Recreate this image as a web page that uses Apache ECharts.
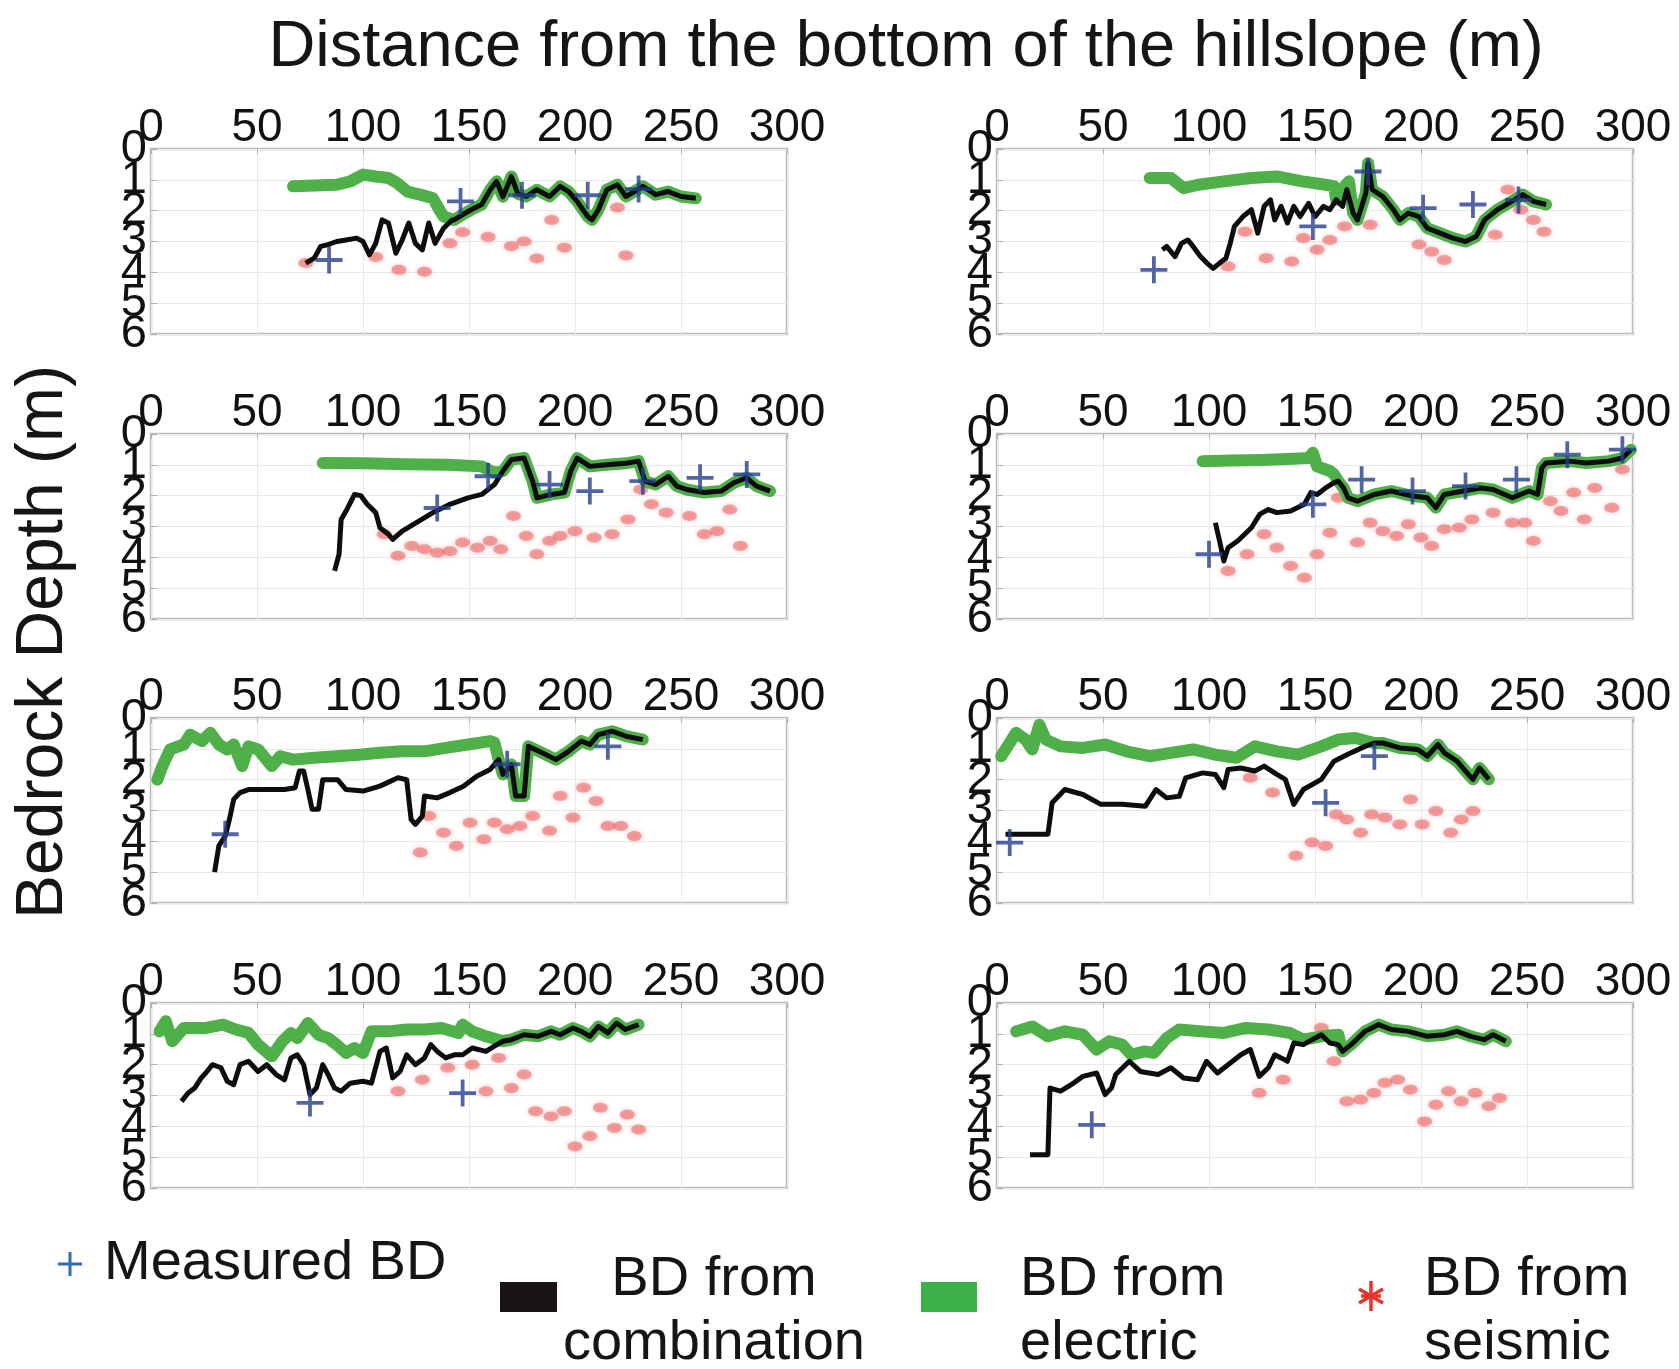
<!DOCTYPE html>
<html>
<head>
<meta charset="utf-8">
<script src="https://cdn.jsdelivr.net/npm/echarts@6/dist/echarts.min.js"></script>
<style>html,body{margin:0;padding:0;background:#fff}#c{width:1679px;height:1369px}</style>
</head>
<body>
<div id="c"></div>
<script>
// ---------- tick labels ----------
const xTicks = [0, 50, 100, 150, 200, 250, 300];
const yTicks = [0, 1, 2, 3, 4, 5, 6];

// ---------- panel 1 (top-left) ----------
const p1_measured = [[84,3.6],[146,1.7],[175,1.5],[206,1.5],[230,1.3]];
const p1_combOnly = [[73,3.7],[77,3.54],[80,3.16],[83.5,3.1],[87.6,3.0],[92,2.95],[97,2.89],[100,3.0],[103,3.43],[106,3.06],[109,2.3],[112,2.4],[115.5,3.38],[118.5,2.95],[121.6,2.4],[124.7,3.06],[128,3.27],[131,2.4],[134,3.06],[138,2.57],[142,2.3]];
const p1_elecOnly = [[67,1.21],[87.6,1.16],[94,1.05],[100,0.83],[106,0.89],[112,0.94],[116,1.1],[121,1.38],[127,1.48],[133,1.6],[136,1.97],[138,2.19]];
const p1_joint = [[143,2.3],[147,2.13],[151,1.97],[156,1.8],[160,1.32],[163,1.05],[166,1.55],[170,0.89],[173,1.45],[177,1.54],[182,1.32],[188,1.54],[193,1.21],[197,1.38],[201,1.7],[206,2.19],[208,2.3],[211,1.97],[215,1.32],[220,1.16],[224,1.54],[228,1.38],[232,1.21],[238,1.48],[244,1.38],[250,1.54],[257,1.6]];
const p1_seismic = [[73,3.7],[106,3.5],[117,3.92],[129,3.98],[141,3.06],[147,2.7],[159,2.85],[170,3.15],[176,3.0],[182,3.55],[189,2.3],[195,3.2],[220,1.9],[224,3.45]];

// ---------- panel 2 (top-right) ----------
const p2_measured = [[74,3.92],[149,2.51],[175,0.73],[201,1.92],[224.5,1.8],[246,1.65]];
const p2_combOnly = [[78,3.27],[80,3.16],[84,3.49],[87,3.06],[90,2.95],[92.5,3.16],[96,3.49],[99,3.7],[102,3.87],[105,3.7],[108,3.54],[110,3.06],[112,2.51],[116,2.19],[120,1.97],[123,2.73],[126,1.86],[129,1.65],[131,2.3],[134,1.86],[137,2.4],[140,1.86],[143,2.19],[147,1.76],[150,2.19],[154,1.86],[157,1.97],[160,1.65],[163,1.86],[165,1.32],[168,2.08]];
const p2_elecOnly = [[72,0.94],[82,0.94],[88,1.27],[95,1.16],[107,1.05],[120,0.94],[132,0.89],[144,1.05],[155,1.16],[159,1.21],[160,1.65],[164,1.21],[166,1.05],[168,2.08]];
const p2_joint = [[170,2.3],[174,1.43],[175,0.46],[177,1.32],[182,1.54],[187,1.97],[190,2.3],[194,2.08],[199,2.19],[203,2.57],[209,2.73],[215,2.89],[221,3.0],[226,2.84],[230,2.3],[236,1.97],[244,1.65],[248,1.48],[253,1.7],[259,1.8]];
const p2_seismic = [[109,3.81],[117,2.68],[127,3.54],[139,3.65],[144.5,2.89],[151,3.27],[157,2.95],[164,2.51],[176,2.46],[199,3.1],[205,3.33],[211,3.6],[235,2.78],[241,1.32],[247,1.97],[253,2.3],[258,2.68]];

// ---------- panel 3 (row 2 left) ----------
const p3_measured = [[135,2.4],[159,1.37],[188,1.64],[207,1.85],[232,1.53],[259,1.42],[281,1.31]];
const p3_combOnly = [[86.6,4.44],[88.7,3.9],[89.7,2.77],[92,2.5],[96,1.96],[99,2.0],[102,2.28],[106,2.55],[108,3.04],[112,3.25],[114,3.42],[118.5,3.15],[125,2.88],[133,2.55],[141,2.28],[149.5,2.07],[156,1.96],[162,1.64]];
const p3_elecOnly = [[81,0.94],[100,0.95],[120,0.98],[140,1.0],[156,1.05],[162,1.26]];
const p3_joint = [[166,1.2],[170,0.83],[176,0.78],[180,1.53],[182,2.07],[189,1.96],[195,1.9],[198,1.2],[201,0.78],[207,1.05],[215,1.0],[224,0.95],[230,0.88],[233,1.53],[238,1.64],[244,1.37],[248,1.69],[252.6,1.8],[261,1.9],[269,1.85],[275,1.58],[281,1.42],[285.6,1.69],[292,1.85]];
const p3_seismic = [[110,3.25],[116.5,3.95],[123,3.63],[129,3.74],[135,3.85],[141,3.8],[147,3.52],[154,3.69],[160,3.47],[165,3.74],[171,2.66],[177,3.31],[182,3.9],[188,3.47],[193,3.31],[200,3.15],[209,3.36],[217.5,3.25],[225,2.77],[231,1.8],[236,2.28],[243,2.55],[254,2.66],[261,3.25],[267,3.15],[273,2.45],[278,3.63]];

// ---------- panel 4 (row 2 right) ----------
const p4_measured = [[100,3.9],[149,2.28],[172,1.48],[196,1.85],[221,1.69],[245,1.48],[269,0.67],[295,0.51]];
const p4_combOnly = [[103,2.88],[105,3.47],[107,4.12],[109,3.69],[113.5,3.47],[120,3.04],[124,2.6],[128,2.45],[132,2.55],[138.5,2.5],[145,2.28],[148,1.9],[151,1.96],[155,1.75],[159,1.58]];
const p4_elecOnly = [[97,0.88],[110,0.86],[125,0.84],[140,0.8],[147,0.78],[149,0.61],[151,1.05],[157,1.2],[159,1.31]];
const p4_joint = [[161,1.53],[163.5,1.75],[165.6,2.07],[170,2.18],[178,1.96],[186,1.85],[195,2.0],[203,2.07],[207,2.39],[211,1.96],[220,1.85],[228,1.75],[234,1.8],[243,2.07],[251,1.85],[255,1.96],[257,1.1],[259,0.94],[270,0.88],[278,0.94],[288.5,0.88],[295,0.78],[299,0.51]];
const p4_seismic = [[109,4.44],[118,3.9],[126,3.25],[132,3.69],[138.5,4.28],[145,4.66],[151,3.9],[157,3.2],[161,2.07],[170,3.52],[176,2.88],[182,3.15],[188.5,3.31],[194,2.93],[200,3.36],[205,3.63],[211,3.09],[218,3.04],[224,2.77],[234,2.55],[243,2.88],[249,2.88],[253,3.47],[261,2.18],[266,2.5],[272,1.9],[277,2.77],[282,1.75],[290,2.39],[295,1.15]];

// ---------- panel 5 (row 3 left) ----------
const p5_measured = [[35,3.77],[168,1.5],[215.5,0.92]];
const p5_combOnly = [[30,5.0],[32,4.15],[35,3.83],[37,3.29],[39,2.64],[42,2.42],[46,2.32],[54.6,2.32],[63,2.32],[68,2.26],[70,1.72],[72,1.72],[74,2.32],[76,2.96],[79,2.96],[81,2.0],[88,2.0],[92,2.32],[100,2.37],[108,2.21],[116.5,1.94],[120.6,2.0],[122.7,3.29],[124.7,3.45],[128,3.18],[129,2.53],[135,2.59],[141,2.42],[147.4,2.21],[153.6,1.89],[160,1.67]];
const p5_elecOnly = [[3,2.0],[5,1.62],[9,1.02],[15.5,0.86],[18.5,0.54],[24,0.75],[28,0.48],[32,0.86],[36,1.02],[39,0.86],[43,1.56],[46,0.92],[50.5,1.02],[57,1.56],[61,1.24],[67,1.35],[77,1.29],[88,1.24],[98,1.19],[108,1.13],[118.5,1.08],[129,1.08],[139,0.97],[149.5,0.86],[160,0.75],[162,0.8]];
const p5_joint = [[164,1.35],[166,1.83],[170,1.51],[172,2.53],[176,2.53],[178,0.92],[184.5,1.13],[191,1.35],[197,1.08],[203,0.75],[207,0.86],[211,0.54],[217.5,0.43],[224,0.59],[232,0.7]];
const p5_seismic = [[127,4.36],[131,3.18],[138,3.72],[144,4.15],[150.5,3.4],[157,3.93],[162,3.4],[168,3.61],[174,3.5],[180,3.18],[188,3.66],[193,2.53],[199,3.23],[204,2.26],[210,2.69],[215.5,3.5],[221.6,3.5],[228,3.83]];

// ---------- panel 6 (row 3 right) ----------
const p6_measured = [[6,4.04],[155,2.75],[178,1.24]];
const p6_combOnly = [[4,3.77],[24,3.77],[26,2.75],[32,2.32],[40.5,2.48],[49,2.8],[59,2.8],[70,2.86],[75,2.32],[80,2.59],[86,2.54],[89,1.94],[97,1.78],[103,1.83],[107,2.26],[109,1.67],[115,1.62],[121.6,1.72],[126,1.56],[132,1.83],[136,1.99],[140,2.8],[144.5,2.32],[153,1.99],[159,1.4],[165,1.19],[173.6,0.92]];
const p6_elecOnly = [[2,1.24],[5,0.92],[9,0.48],[13.5,0.7],[16.6,1.02],[20,0.22],[23,0.7],[30,0.92],[40.5,0.97],[51,0.86],[61,1.08],[72,1.24],[82,1.13],[92.5,1.02],[103,1.19],[113,1.29],[121.6,0.92],[132,1.08],[142,1.19],[153,0.92],[161,0.7],[169,0.65]];
const p6_joint = [[178,0.81],[182,0.81],[190,0.97],[198.5,1.02],[203,1.24],[208,0.86],[211,1.13],[217,1.4],[221,1.72],[224.5,1.99],[227.6,1.62],[232,1.99]];
const p6_seismic = [[119.5,1.94],[130,2.42],[141,4.47],[148.6,4.04],[155,4.15],[160,3.13],[165,3.29],[171.5,3.72],[176.7,3.13],[183,3.23],[190,3.45],[195,2.64],[200.6,3.45],[207,3.02],[214,3.72],[219,3.29],[224.5,3.02]];

// ---------- panel 7 (row 4 left) ----------
const p7_measured = [[75,3.24],[147,2.92]];
const p7_combOnly = [[14.4,3.19],[17.5,2.92],[20.6,2.76],[23.7,2.43],[25.8,2.27],[29,2.0],[33,2.1],[36,2.54],[39,2.65],[42,2.0],[46,1.89],[50.5,2.22],[54.6,2.0],[59,2.32],[63,2.49],[66,1.78],[69,1.68],[72,2.0],[75,2.97],[78,2.76],[81,2.0],[83.5,2.32],[86.6,2.76],[89.7,2.86],[94,2.6],[100,2.54],[104,2.6],[108,1.57],[111,1.46],[114,2.43],[117.5,2.22],[120.6,1.68],[124.7,2.0],[129,1.78],[132,1.35],[135,1.57],[139,1.78],[143,1.68],[147,1.68],[151.5,1.46],[158,1.57],[162,1.4]];
const p7_elecOnly = [[4,0.92],[7,0.59],[10,1.24],[15.5,0.81],[26,0.81],[34,0.7],[40,0.86],[46,0.97],[50.5,1.35],[57,1.73],[62,1.24],[66,0.97],[69,1.14],[74,0.65],[79,1.03],[83.5,1.14],[87.6,1.35],[92,1.62],[96,1.46],[100,1.62],[104,0.92],[112,0.92],[120.6,0.86],[129,0.86],[137,0.81],[145,0.97],[147,0.7],[151.5,0.92],[158,1.08]];
const p7_joint = [[166,1.24],[170,1.19],[176,1.03],[182.5,1.08],[188.7,0.92],[193,1.03],[199,0.81],[203,0.92],[207,1.08],[211,0.76],[215.5,0.97],[219.6,0.65],[223.7,0.86],[230,0.7]];
const p7_seismic = [[116.5,2.86],[128,2.49],[140,2.1],[151.5,2.0],[158,2.86],[164,1.78],[170,2.76],[176,2.32],[181.4,3.51],[188.7,3.68],[195,3.51],[200,4.65],[207,4.32],[212,3.4],[218.6,4.05],[224.7,3.62],[230,4.1]];

// ---------- panel 8 (row 4 right) ----------
const p8_measured = [[44.7,3.95]];
const p8_combOnly = [[15.6,4.92],[24,4.92],[25,2.76],[30,2.86],[35,2.65],[40.5,2.38],[47,2.27],[51,2.97],[54,2.76],[56,2.32],[62.4,1.89],[67.6,2.22],[76,2.32],[82,2.1],[88,2.43],[94.6,2.49],[98.8,1.89],[104,2.27],[109,2.0],[115,1.68],[119.5,1.51],[123.7,2.38],[128,2.1],[131,1.68],[134,1.78],[137,1.89],[140,1.3],[144.5,1.35],[148.6,1.19],[153,1.03],[157,1.3],[161,1.35]];
const p8_elecOnly = [[9,0.92],[16.6,0.76],[24,1.08],[32,0.92],[40.5,1.03],[47,1.51],[53,1.24],[59,1.35],[63.4,1.68],[69.6,1.57],[74,1.62],[80,1.14],[86,0.86],[96.7,0.92],[107,0.97],[117.5,0.81],[128,0.86],[138,0.97],[144.5,1.19],[153,1.08],[161,1.03]];
const p8_joint = [[163,1.57],[167,1.35],[173.6,0.92],[180,0.7],[186,0.86],[194,0.92],[203,1.08],[211,1.03],[217,0.92],[223.5,1.08],[229.7,1.19],[234,1.03],[240,1.24]];
const p8_seismic = [[123.7,2.92],[135,2.49],[153,0.81],[159,1.89],[165,3.19],[171.5,3.14],[177.8,2.92],[183,2.59],[189,2.49],[195,2.81],[201.7,3.84],[207,3.3],[213,2.86],[219,3.19],[225.6,2.92],[232,3.35],[237,3.08]];

const titleText = 'Distance from the bottom of the hillslope (m)';
const yTitleText = 'Bedrock Depth (m)';
const legendNames = ['Measured BD', 'BD from\ncombination', 'BD from\nelectric', 'BD from\nseismic'];

// ---------- build ----------
const panels = [
  {m:p1_measured, c:p1_combOnly.concat(p1_joint), e:p1_elecOnly.concat(p1_joint), s:p1_seismic},
  {m:p2_measured, c:p2_combOnly.concat(p2_joint), e:p2_elecOnly.concat(p2_joint), s:p2_seismic},
  {m:p3_measured, c:p3_combOnly.concat(p3_joint), e:p3_elecOnly.concat(p3_joint), s:p3_seismic},
  {m:p4_measured, c:p4_combOnly.concat(p4_joint), e:p4_elecOnly.concat(p4_joint), s:p4_seismic},
  {m:p5_measured, c:p5_combOnly.concat(p5_joint), e:p5_elecOnly.concat(p5_joint), s:p5_seismic},
  {m:p6_measured, c:p6_combOnly.concat(p6_joint), e:p6_elecOnly.concat(p6_joint), s:p6_seismic},
  {m:p7_measured, c:p7_combOnly.concat(p7_joint), e:p7_elecOnly.concat(p7_joint), s:p7_seismic},
  {m:p8_measured, c:p8_combOnly.concat(p8_joint), e:p8_elecOnly.concat(p8_joint), s:p8_seismic}
];

const FONT = '"Liberation Sans", Arial, sans-serif';
const colLeft = [151, 997];
const rowTop = [149, 434, 718, 1003];
const PW = 636, PH = 185;
const GREEN = '#4fb04a', BLACK = '#0d0d0d', BLUE = '#253f8f', PINK = 'rgba(236,100,100,0.7)';
const PLUS = 'path://M4.3,0H5.7V4.3H10V5.7H5.7V10H4.3V5.7H0V4.3H4.3Z';

// labels split over two overlaid axes so that the overlapping digits are all drawn
const evenLabel = (v) => (yTicks.indexOf(v) % 2 === 0 ? String(v) : '');
const oddLabel = (v) => (yTicks.indexOf(v) % 2 === 1 ? String(v) : '');

const grids = [], xAxes = [], yAxes = [], series = [];
panels.forEach((p, i) => {
  const col = i % 2, row = Math.floor(i / 2);
  grids.push({left: colLeft[col], top: rowTop[row], width: PW, height: PH, show: true,
    borderColor: '#bcbcbc', borderWidth: 2.5, backgroundColor: 'rgba(0,0,0,0)', containLabel: false});
  xAxes.push({gridIndex: i, type: 'value', position: 'top', min: xTicks[0], max: xTicks[xTicks.length-1],
    interval: xTicks[1]-xTicks[0],
    axisLine: {show: false}, axisTick: {show: true, inside: true, length: 5, lineStyle: {color: '#b0b0b0'}},
    axisLabel: {fontSize: 46, color: '#111', fontFamily: FONT, margin: -2, showMinLabel: true, showMaxLabel: true},
    splitLine: {show: true, lineStyle: {color: '#e9e9e9', width: 1}}});
  const yBase = {gridIndex: i, type: 'value', inverse: true, position: 'left', offset: 0,
    min: yTicks[0], max: yTicks[yTicks.length-1], interval: yTicks[1]-yTicks[0], axisLine: {show: false}};
  yAxes.push(Object.assign({}, yBase, {
    axisTick: {show: true, inside: true, length: 6, lineStyle: {color: '#b0b0b0'}},
    axisLabel: {fontSize: 47, color: '#111', fontFamily: FONT, margin: 4, showMinLabel: true, showMaxLabel: true, formatter: evenLabel},
    splitLine: {show: true, lineStyle: {color: '#e9e9e9', width: 1}}}));
  yAxes.push(Object.assign({}, yBase, {
    axisTick: {show: false}, splitLine: {show: false},
    axisLabel: {fontSize: 47, color: '#111', fontFamily: FONT, margin: 4, showMinLabel: true, showMaxLabel: true, formatter: oddLabel}}));
  const yi = 2 * i;
  series.push({type: 'scatter', xAxisIndex: i, yAxisIndex: yi, data: p.s, symbol: 'circle', symbolSize: [15, 10],
    itemStyle: {color: PINK, shadowBlur: 5, shadowColor: 'rgba(240,120,120,0.7)'}, z: 1, silent: true});
  series.push({type: 'line', xAxisIndex: i, yAxisIndex: yi, data: p.e, showSymbol: false,
    lineStyle: {color: GREEN, width: 12, join: 'round', cap: 'round'}, z: 2, silent: true});
  series.push({type: 'line', xAxisIndex: i, yAxisIndex: yi, data: p.c, showSymbol: false,
    lineStyle: {color: BLACK, width: 5, join: 'round'}, z: 3, silent: true});
  series.push({type: 'scatter', xAxisIndex: i, yAxisIndex: yi, data: p.m, symbol: PLUS, symbolSize: 27,
    itemStyle: {color: BLUE}, z: 4, silent: true});
});

// ---------- text + legend graphics ----------
const txt = (x, y, s, size, align) => ({type: 'text', x: x, y: y,
  style: {text: s, fontSize: size, fontFamily: FONT, fill: '#151515', textAlign: align || 'left', textVerticalAlign: 'middle'}});
const lines2 = (n) => n.split('\n');
const RED = '#e5342b';

const graphics = [
  txt(906, 48, titleText, 65, 'center'),
  {type: 'text', x: 44, y: 642, rotation: Math.PI / 2,
    style: {text: yTitleText, fontSize: 66, fontFamily: FONT, fill: '#151515', textAlign: 'center', textVerticalAlign: 'middle'}},
  // measured
  {type: 'rect', shape: {x: 68.5, y: 1252, width: 3, height: 24}, style: {fill: '#2f6cb8'}},
  {type: 'rect', shape: {x: 58, y: 1262.5, width: 24, height: 3}, style: {fill: '#2f6cb8'}},
  txt(104, 1264, legendNames[0], 56),
  // combination
  {type: 'rect', shape: {x: 500, y: 1282, width: 57, height: 30}, style: {fill: '#1a1415'}},
  txt(714, 1280, lines2(legendNames[1])[0], 56, 'center'),
  txt(714, 1344, lines2(legendNames[1])[1], 56, 'center'),
  // electric
  {type: 'rect', shape: {x: 921, y: 1282, width: 56, height: 30}, style: {fill: '#3cb14a'}},
  txt(1020, 1280, lines2(legendNames[2])[0], 56),
  txt(1020, 1344, lines2(legendNames[2])[1], 56),
  // seismic asterisk
  {type: 'line', shape: {x1: 1371, y1: 1281, x2: 1371, y2: 1311}, style: {stroke: RED, lineWidth: 3.5}},
  {type: 'line', shape: {x1: 1359, y1: 1289, x2: 1383, y2: 1303}, style: {stroke: RED, lineWidth: 3.5}},
  {type: 'line', shape: {x1: 1359, y1: 1303, x2: 1383, y2: 1289}, style: {stroke: RED, lineWidth: 3.5}},
  {type: 'line', shape: {x1: 1361, y1: 1296, x2: 1381, y2: 1296}, style: {stroke: RED, lineWidth: 3.5}},
  txt(1424, 1280, lines2(legendNames[3])[0], 56),
  txt(1424, 1344, lines2(legendNames[3])[1], 56)
];

const chart = echarts.init(document.getElementById('c'), null, {renderer: 'canvas'});
chart.setOption({
  backgroundColor: '#ffffff',
  animation: false,
  grid: grids, xAxis: xAxes, yAxis: yAxes, series: series,
  graphic: graphics
});
</script>
</body>
</html>
